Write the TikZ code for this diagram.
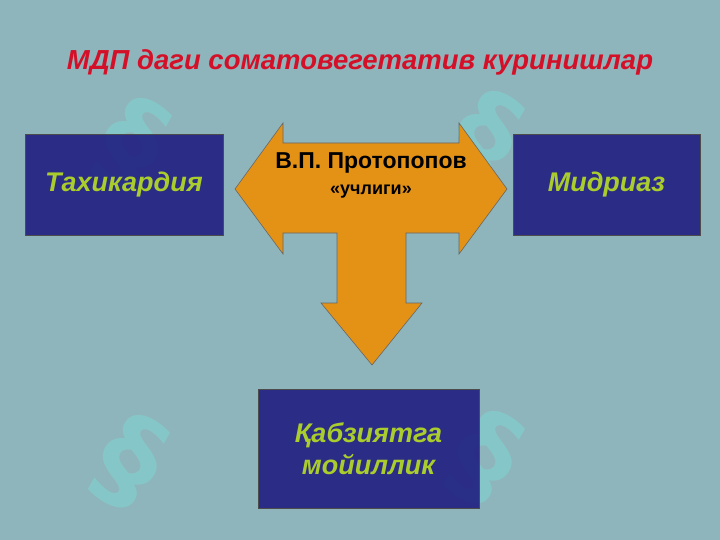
\documentclass[tikz,border=0pt]{standalone}
\usepackage{fontspec}
\setmainfont{Liberation Sans}
\newfontfamily\symfont{DejaVu Sans}
\definecolor{bgteal}{RGB}{143,181,188}
\definecolor{wmark}{RGB}{125,215,210}
\definecolor{boxblue}{RGB}{32,30,128}
\definecolor{boxtext}{RGB}{170,205,45}
\definecolor{arroworange}{RGB}{228,146,22}
\definecolor{titlered}{RGB}{212,16,40}
\tikzset{
  bluebox/.style={draw=black!70, line width=0.8pt, fill=boxblue, fill opacity=0.9, text opacity=1, inner sep=0pt,
    text=boxtext, font=\fontsize{27}{32}\selectfont\bfseries\itshape, align=center},
  watermark/.style={text=wmark, opacity=0.55, font=\fontsize{115}{115}\symfont\bfseries, rotate=-30},
}
\begin{document}
\begin{tikzpicture}[x=1pt,y=-1pt]
\fill[bgteal] (0,0) rectangle (720,540);
\useasboundingbox (0,0) rectangle (720,540);
% watermarks
\node[watermark] (w1) at (132,145) {§};
\node[watermark] (w2) at (485,138) {§};
\node[watermark] (w3) at (130,462) {§};
\node[watermark] (w4) at (485,458) {§};
% title
\node[text=titlered, font=\fontsize{27.5}{32}\selectfont\bfseries\itshape] (title) at (360,62) {МДП даги соматовегетатив куринишлар};
% boxes
\node[bluebox, minimum width=198pt, minimum height=101pt] (tachy) at (124,184.5) {Тахикардия};
\node[bluebox, minimum width=187pt, minimum height=101pt] (mydr) at (606.5,184.5) {Мидриаз};
\node[bluebox, minimum width=221pt, minimum height=119pt] (kabz) at (368.5,449) {Қабзиятга\\мойиллик};
% arrow
\draw[fill=arroworange, draw=black!60, line width=0.6pt]
  (235,189) -- (283,123) -- (283,143) -- (459,143) -- (459,123) -- (507,189)
  -- (459,254) -- (459,233) -- (406,233) -- (406,303) -- (422,303) -- (372,365)
  -- (321,303) -- (337,303) -- (337,233) -- (283,233) -- (283,254) -- cycle;
\node[font=\fontsize{23}{26}\selectfont\bfseries] (auth) at (371,163) {В.П. Протопопов};
\node[font=\fontsize{18}{20}\selectfont\bfseries] (sub) at (371,192) {«учлиги»};
\end{tikzpicture}
\end{document}
